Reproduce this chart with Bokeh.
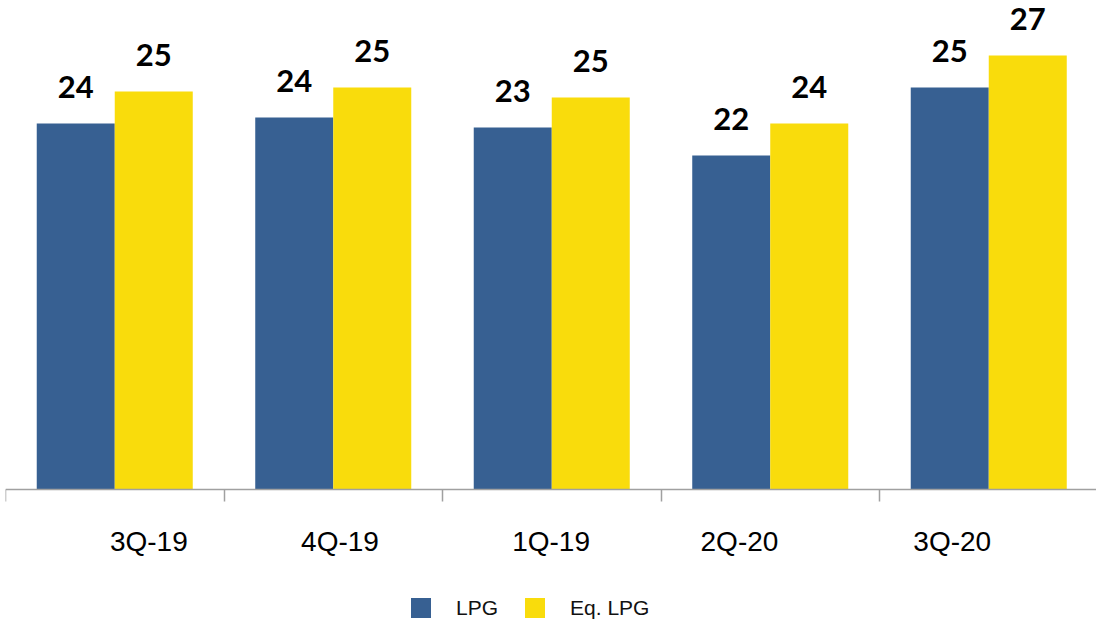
from bokeh.plotting import figure
from bokeh.models import ColumnDataSource, Range1d, FixedTicker, Legend, LegendItem, LinearAxis
from bokeh.core.properties import value
from bokeh.embed import file_html
from bokeh.resources import INLINE

# ---- data ----
quarters = ["3Q-19", "4Q-19", "1Q-19", "2Q-20", "3Q-20"]
lpg = [23.6, 23.9, 23.4, 22.0, 25.4]
eq_lpg = [25.2, 25.4, 24.9, 23.6, 27.0]
series_names = ["LPG", "Eq. LPG"]

# ---- style ----
BLUE = "#376092"
YELLOW = "#F9DC0C"
Y0 = 5.3            # value at the baseline
PX_PER_UNIT = 20.0  # vertical pixels per unit
BASE_PX = 489       # baseline pixel from top
H = 623
BAR_W = 0.357
label_shift = [0.156, 0.031, -0.003, -0.141, -0.167]
VAL_GAP = 37        # px between bar top and value-label anchor
CAT_DROP = 52       # px from baseline down to category label anchor

n = len(quarters)
idx = list(range(n))
src = ColumnDataSource(dict(
    x_lpg=[i + 0.5 - BAR_W / 2 for i in idx],
    x_eq=[i + 0.5 + BAR_W / 2 for i in idx],
    lpg=lpg,
    eq=eq_lpg,
    lpg_lab=[f"{v:.0f}" for v in lpg],
    eq_lab=[f"{v:.0f}" for v in eq_lpg],
    lpg_ly=[v + VAL_GAP / PX_PER_UNIT for v in lpg],
    eq_ly=[v + VAL_GAP / PX_PER_UNIT for v in eq_lpg],
    cat_x=[i + 0.5 + s for i, s in zip(idx, label_shift)],
    cat_y=[Y0 - CAT_DROP / PX_PER_UNIT] * n,
    cat=quarters,
))

p = figure(width=1096, height=H, output_backend="svg", toolbar_location=None,
           x_range=Range1d(0, 1091 / 218.5),
           y_range=Range1d(Y0 - (H - BASE_PX) / PX_PER_UNIT, Y0 + BASE_PX / PX_PER_UNIT),
           x_axis_location=None, y_axis_location=None,
           min_border_left=5, min_border_right=0, min_border_top=0,
           min_border_bottom=0)
p.outline_line_color = None
p.xgrid.visible = False
p.ygrid.visible = False
p.background_fill_color = "white"
p.border_fill_color = "white"

r1 = p.vbar(x="x_lpg", top="lpg", bottom=Y0, width=BAR_W, source=src,
            fill_color=BLUE, line_color=None)
r2 = p.vbar(x="x_eq", top="eq", bottom=Y0, width=BAR_W, source=src,
            fill_color=YELLOW, line_color=None)

for xcol, ycol, tcol in [("x_lpg", "lpg_ly", "lpg_lab"), ("x_eq", "eq_ly", "eq_lab")]:
    p.text(x=xcol, y=ycol, text=tcol, source=src, text_align="center",
           text_baseline="alphabetic", text_font=value("Lato"),
           text_font_style="bold", text_font_size="31px", text_color="#000000")

# category labels
p.text(x="cat_x", y="cat_y", text="cat", source=src, text_align="center",
       text_baseline="alphabetic", text_font=value("Liberation Sans"),
       text_font_size="28px", text_color="#000000")

# x axis at the baseline: boundary ticks only
ax = LinearAxis(fixed_location=Y0)
ax.ticker = FixedTicker(ticks=list(range(n + 1)))
ax.major_label_text_font_size = "0px"
ax.major_label_text_alpha = 0
ax.minor_tick_line_color = None
ax.major_tick_in = 0
ax.major_tick_out = 12
ax.axis_line_color = "#a0a0a0"
ax.axis_line_width = 1.5
ax.major_tick_line_color = "#a0a0a0"
ax.major_tick_line_width = 1.5
p.add_layout(ax, "below")

legend = Legend(items=[LegendItem(label=series_names[0], renderers=[r1]),
                       LegendItem(label=series_names[1], renderers=[r2])],
                orientation="horizontal", location=(403, 3),
                glyph_width=25, glyph_height=25, label_height=25,
                label_standoff=23, spacing=24, padding=0, margin=0,
                border_line_color=None, background_fill_alpha=0,
                label_text_font="Liberation Sans", label_text_font_size="21px",
                label_text_color="#111111")
p.add_layout(legend)

open("out.html", "w").write(file_html(p, INLINE))
